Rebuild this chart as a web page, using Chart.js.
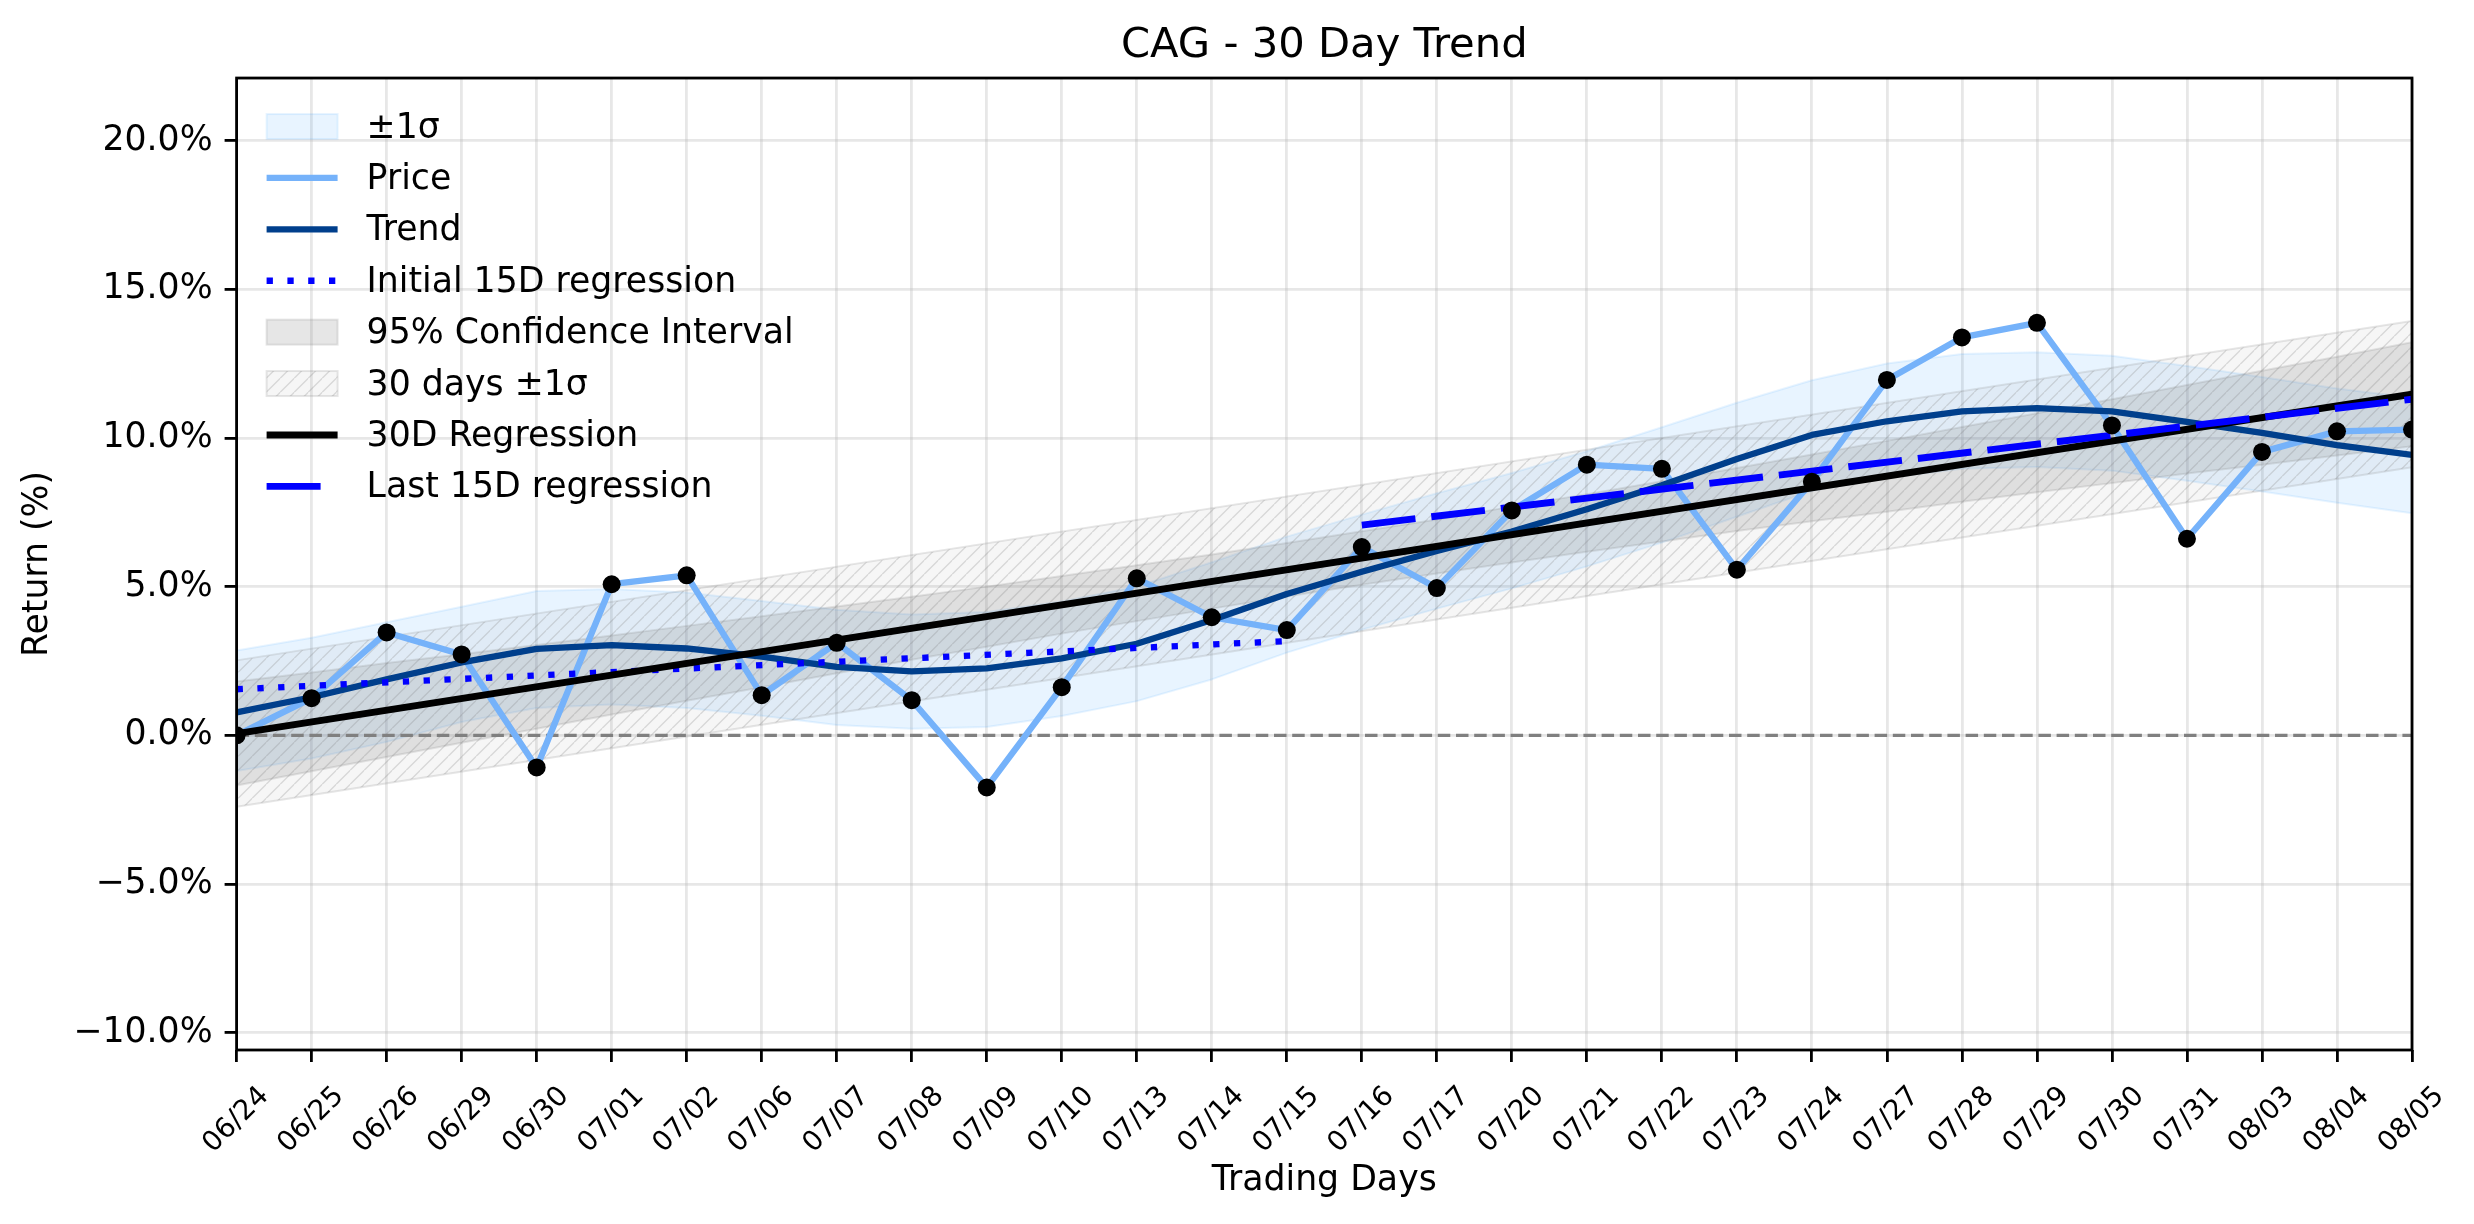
<!DOCTYPE html>
<html>
<head>
<meta charset="utf-8">
<script src="https://cdn.jsdelivr.net/npm/chart.js@4.4.0/dist/chart.umd.min.js"></script>
<style>
  html, body { margin: 0; padding: 0; background: #fff; }
  #wrap { width: 2474px; height: 1224px; }
</style>
</head>
<body>
<div id="wrap"><canvas id="trendChart" width="2474" height="1224"></canvas></div>
<script>
const FONT = 'DejaVu Sans';

// Trading days on the x axis
const days = ['06/24', '06/25', '06/26', '06/29', '06/30', '07/01', '07/02', '07/06', '07/07', '07/08',
              '07/09', '07/10', '07/13', '07/14', '07/15', '07/16', '07/17', '07/20', '07/21', '07/22',
              '07/23', '07/24', '07/27', '07/28', '07/29', '07/30', '07/31', '08/03', '08/04', '08/05'];

// Return (%) per day
const price = [0.00, 1.25, 3.46, 2.72, -1.08, 5.08, 5.38, 1.35, 3.11, 1.18,
               -1.75, 1.62, 5.28, 3.97, 3.54, 6.33, 4.95, 7.56, 9.10, 8.96,
               5.57, 8.53, 11.95, 13.38, 13.87, 10.42, 6.61, 9.53, 10.22, 10.28];
const trend = [0.77, 1.28, 1.88, 2.45, 2.91, 3.03, 2.92, 2.65, 2.30, 2.15,
               2.25, 2.59, 3.08, 3.88, 4.75, 5.50, 6.20, 6.85, 7.60, 8.41,
               9.29, 10.10, 10.56, 10.89, 11.00, 10.89, 10.54, 10.17, 9.76, 9.43];
const sigmaUpper = [2.85, 3.28, 3.80, 4.32, 4.85, 4.92, 4.80, 4.52, 4.22, 4.06,
                    4.15, 4.50, 5.00, 5.82, 6.68, 7.42, 8.14, 8.82, 9.55, 10.36,
                    11.18, 11.94, 12.50, 12.82, 12.88, 12.76, 12.42, 12.05, 11.66, 11.35];
const sigmaLower = [-1.20, -0.78, -0.22, 0.45, 0.92, 1.04, 0.92, 0.66, 0.35, 0.22,
                    0.28, 0.65, 1.15, 1.88, 2.78, 3.55, 4.26, 4.94, 5.68, 6.48,
                    7.35, 8.22, 8.66, 8.96, 9.02, 8.90, 8.56, 8.20, 7.82, 7.47];
const ciUpper = [1.81, 2.11, 2.43, 2.73, 3.04, 3.36, 3.68, 4.00, 4.33, 4.66,
                 5.00, 5.36, 5.72, 6.08, 6.47, 6.86, 7.26, 7.69, 8.11, 8.54,
                 8.99, 9.44, 9.90, 10.37, 10.83, 11.30, 11.78, 12.26, 12.73, 13.22];
const ciLower = [-1.69, -1.21, -0.73, -0.25, 0.22, 0.70, 1.16, 1.62, 2.09, 2.54,
                 2.98, 3.42, 3.84, 4.26, 4.67, 5.06, 5.44, 5.81, 6.17, 6.52,
                 6.87, 7.20, 7.52, 7.85, 8.17, 8.48, 8.80, 9.10, 9.41, 9.72];

// straight lines as [dayIndex, value] end points
const reg30 = [[0, 0.06], [29, 11.47]];
const reg30Upper = [[0, 2.52], [29, 13.93]];
const reg30Lower = [[0, -2.40], [29, 9.01]];
const initialReg = [[0, 1.55], [14, 3.17]];
const lastReg = [[15, 7.07], [29, 11.30]];
const zeroLine = [[0, 0], [29, 0]];

const yTicks = [-10, -5, 0, 5, 10, 15, 20];

const pts = vals => vals.map((v, i) => ({ x: i, y: v }));
const seg = pairs => pairs.map(([x, y]) => ({ x: x, y: y }));

const canvas = document.getElementById('trendChart');
const ctx = canvas.getContext('2d');

// hatch '///' for the 30 day band
function makeHatch() {
    const s = 14.5;
    const tile = document.createElement('canvas');
    tile.width = s; tile.height = s;
    const g = tile.getContext('2d');
    g.fillStyle = 'rgba(128,128,128,0.07)';
    g.fillRect(0, 0, s, s);
    g.strokeStyle = 'rgba(128,128,128,0.26)';
    g.lineWidth = 1.3;
    g.beginPath();
    g.moveTo(-2, s + 2); g.lineTo(s + 2, -2);
    g.moveTo(-2, 2); g.lineTo(2, -2);
    g.moveTo(s - 2, s + 2); g.lineTo(s + 2, s - 2);
    g.stroke();
    return ctx.createPattern(tile, 'repeat');
}
const hatch = makeHatch();

const SIGMA_FILL = 'rgba(30,144,255,0.10)';
const CI_FILL = 'rgba(128,128,128,0.20)';
const PRICE_COLOR = '#75b2fa';
const TREND_COLOR = '#003f8c';

const datasets = [
    { label: '±1σ', data: pts(sigmaUpper), fill: '+1', backgroundColor: SIGMA_FILL, borderColor: SIGMA_FILL,
      borderWidth: 2, pointRadius: 0, order: 100, legendKind: 'patch', legendRank: 0 },
    { label: 'sigma lower', data: pts(sigmaLower), fill: false, borderColor: SIGMA_FILL,
      borderWidth: 2, pointRadius: 0, order: 99 },
    { label: '95% Confidence Interval', data: pts(ciUpper), fill: '+1', backgroundColor: CI_FILL, borderColor: CI_FILL,
      borderWidth: 2, pointRadius: 0, order: 90, legendKind: 'patch', legendRank: 4 },
    { label: 'ci lower', data: pts(ciLower), fill: false, borderColor: CI_FILL,
      borderWidth: 2, pointRadius: 0, order: 89 },
    { label: '30 days ±1σ', data: seg(reg30Upper), fill: '+1', backgroundColor: hatch, borderColor: 'rgba(128,128,128,0.2)',
      borderWidth: 2, pointRadius: 0, order: 80, legendKind: 'patch', legendRank: 5 },
    { label: 'band lower', data: seg(reg30Lower), fill: false, borderColor: 'rgba(128,128,128,0.2)',
      borderWidth: 2, pointRadius: 0, order: 79 },
    { label: 'zero', data: seg(zeroLine), borderColor: '#808080', borderWidth: 3.3, borderDash: [12.5, 5.7],
      pointRadius: 0, order: 70 },
    { label: 'Price', data: pts(price), borderColor: PRICE_COLOR, borderWidth: 6.3, pointRadius: 0,
      order: 60, legendKind: 'line', legendRank: 1 },
    { label: 'Trend', data: pts(trend), borderColor: TREND_COLOR, borderWidth: 6.3, pointRadius: 0,
      order: 50, legendKind: 'line', legendRank: 2 },
    { label: 'Initial 15D regression', data: seg(initialReg), borderColor: '#0000ff', borderWidth: 6.3,
      borderDash: [6.3, 14.5], pointRadius: 0, order: 40, legendKind: 'line', legendRank: 3 },
    { label: '30D Regression', data: seg(reg30), borderColor: '#000000', borderWidth: 6.9, pointRadius: 0,
      order: 30, legendKind: 'line', legendRank: 6 },
    { label: 'Last 15D regression', data: seg(lastReg), borderColor: '#0000ff', borderWidth: 6.9,
      borderDash: [54, 16], pointRadius: 0, order: 20, legendKind: 'line', legendRank: 7 },
    { label: 'dots', data: pts(price), showLine: false, pointRadius: 9, pointBackgroundColor: '#000',
      pointBorderWidth: 0, order: 10 }
];

// all four spines, drawn over the data like matplotlib
const spines = {
    id: 'spines',
    afterDatasetsDraw(chart) {
        const { ctx, chartArea: a } = chart;
        ctx.save();
        ctx.strokeStyle = '#000';
        ctx.lineWidth = 2.8;
        ctx.strokeRect(a.left, a.top, a.right - a.left, a.bottom - a.top);
        ctx.restore();
    }
};

// legend in the upper left corner, no frame
const mplLegend = {
    id: 'mplLegend',
    afterDraw(chart) {
        const { ctx, chartArea: a } = chart;
        const items = chart.data.datasets.filter(d => d.legendKind)
            .sort((p, q) => p.legendRank - q.legendRank);
        ctx.save();
        items.forEach((d, i) => {
            const cy = a.top + 48.5 + i * 51.4;
            const hx = a.left + 30;
            if (d.legendKind === 'patch') {
                ctx.fillStyle = d.backgroundColor;
                ctx.fillRect(hx, cy - 12.5, 71, 25);
                ctx.strokeStyle = d.borderColor;
                ctx.lineWidth = 2;
                ctx.setLineDash([]);
                ctx.strokeRect(hx, cy - 12.5, 71, 25);
            } else {
                const dash = d.borderDash || [];
                ctx.strokeStyle = d.borderColor;
                ctx.lineWidth = d.borderWidth;
                ctx.lineCap = 'butt';
                ctx.setLineDash(dash);
                ctx.beginPath();
                ctx.moveTo(hx, cy);
                ctx.lineTo(hx + (dash[0] > 20 ? 68 : 71), cy);
                ctx.stroke();
            }
            ctx.setLineDash([]);
            ctx.fillStyle = '#000';
            ctx.font = '34.7px "' + FONT + '"';
            ctx.textBaseline = 'middle';
            ctx.textAlign = 'left';
            ctx.fillText(d.label, a.left + 130, cy + 2);
        });
        ctx.restore();
    }
};

const GRID = 'rgba(176,176,176,0.3)';

new Chart(ctx, {
    type: 'line',
    data: { datasets: datasets },
    plugins: [spines, mplLegend],
    options: {
        responsive: false,
        devicePixelRatio: 1,
        animation: false,
        events: [],
        datasets: { line: { clip: 0, tension: 0, borderJoinStyle: 'round' } },
        layout: { autoPadding: false, padding: { left: 0, right: 62, top: 0, bottom: 0 } },
        plugins: {
            legend: { display: false },
            tooltip: { enabled: false },
            title: {
                display: true,
                text: 'CAG - 30 Day Trend',
                fullSize: false,
                color: '#000',
                font: { family: FONT, size: 41.7, weight: 'normal' },
                padding: { top: 21, bottom: 7 }
            }
        },
        scales: {
            x: {
                type: 'linear',
                min: 0,
                max: days.length - 1,
                afterBuildTicks: s => { s.ticks = days.map((_, i) => ({ value: i })); },
                afterFit: s => { s.height = 174; },
                ticks: {
                    autoSkip: false,
                    minRotation: 45,
                    maxRotation: 45,
                    callback: v => days[v],
                    color: '#000',
                    font: { family: FONT, size: 27.8 },
                    padding: 18,
                    labelOffset: 28
                },
                grid: { color: GRID, lineWidth: 2.8, tickColor: '#000', tickWidth: 2.8, tickLength: 12 },
                border: { display: false },
                title: {
                    display: true,
                    text: 'Trading Days',
                    color: '#000',
                    font: { family: FONT, size: 34.7 },
                    padding: { top: 0, bottom: 22 }
                }
            },
            y: {
                min: -10.58,
                max: 22.1,
                afterBuildTicks: s => { s.ticks = yTicks.map(v => ({ value: v })); },
                afterFit: s => { s.width = 236.6; },
                ticks: {
                    callback: v => (v < 0 ? '\u2212' : '') + Math.abs(v).toFixed(1) + '%',
                    color: '#000',
                    font: { family: FONT, size: 34.7 },
                    padding: 12
                },
                grid: { color: GRID, lineWidth: 2.8, tickColor: '#000', tickWidth: 2.8, tickLength: 12 },
                border: { display: false },
                title: {
                    display: true,
                    text: 'Return (%)',
                    color: '#000',
                    font: { family: FONT, size: 34.7 },
                    padding: { top: 17, bottom: 0 }
                }
            }
        }
    }
});
</script>
</body>
</html>
